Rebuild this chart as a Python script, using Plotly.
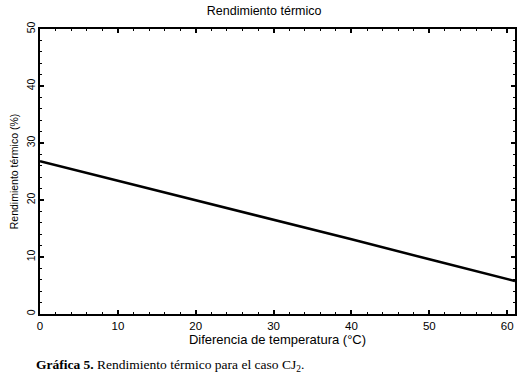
import plotly.graph_objects as go

x_vals = [0, 10, 20, 30, 40, 50, 61]
y_vals = [26.8, 23.4, 20.0, 16.5, 13.1, 9.6, 5.8]

title_text = "Rendimiento térmico"
x_title = "Diferencia de temperatura (°C)"
y_title = "Rendimiento térmico (%)"
caption = "<b>Gráfica 5.</b> Rendimiento térmico para el caso CJ<sub>2</sub>."

SANS = "Liberation Sans, Arial"

fig = go.Figure()
fig.add_trace(go.Scatter(x=x_vals, y=y_vals, mode="lines",
                         line=dict(color="black", width=2.5)))

axis_common = dict(
    showline=True, linecolor="black", linewidth=1.5, mirror="ticks",
    ticks="inside", ticklen=4, tickwidth=1.5, tickcolor="black",
    showgrid=False, zeroline=False, automargin=False,
    minor=dict(ticks="inside", ticklen=2.5, tickwidth=1, tickcolor="black", dtick=2),
)

fig.update_layout(
    width=521, height=374,
    paper_bgcolor="white", plot_bgcolor="white",
    margin=dict(l=40, r=6, t=29, b=60),
    showlegend=False,
    title=dict(text=title_text, x=0.507, xanchor="center", y=0.972, yanchor="middle",
               automargin=False,
               font=dict(family=SANS, size=12.5, color="black")),
    xaxis=dict(range=[0, 61], dtick=10, tick0=0,
               tickfont=dict(family=SANS, size=11.5, color="black"),
               title=dict(text=x_title, standoff=4,
                          font=dict(family=SANS, size=13, color="black")),
               **axis_common),
    yaxis=dict(range=[0, 50], dtick=10, tick0=0, tickangle=-90, ticklabelstandoff=-1,
               tickfont=dict(family=SANS, size=10.5, color="black"),
               title=dict(text=y_title, standoff=4,
                          font=dict(family=SANS, size=10.5, color="black")),
               **axis_common),
    annotations=[dict(text=caption, xref="paper", yref="paper", x=-0.012, y=-0.18,
                      xanchor="left", yanchor="middle", showarrow=False,
                      font=dict(family="Liberation Serif, Times New Roman", size=13.5, color="black"))],
)

fig.write_html("out.html", config={"displayModeBar": False},
               post_script="document.body.style.margin='0';")
